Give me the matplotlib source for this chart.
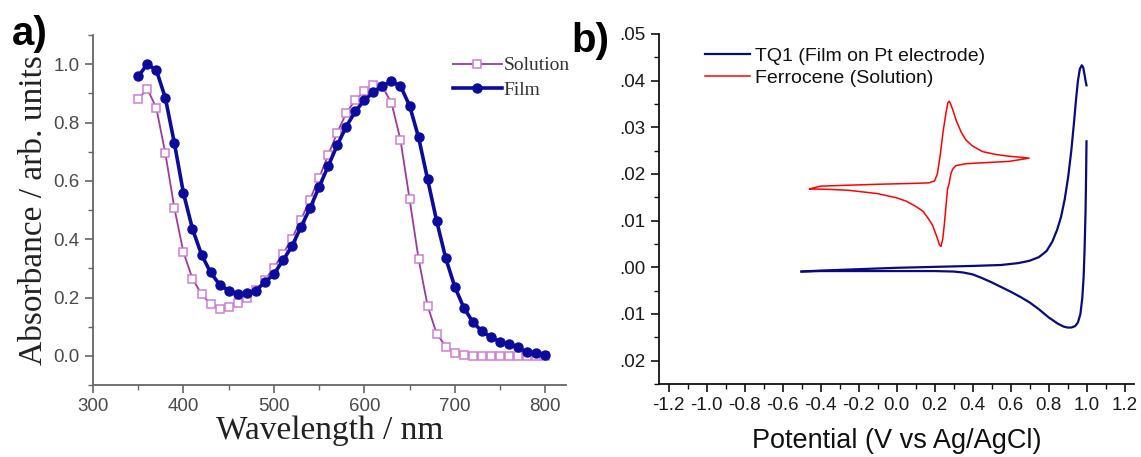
import matplotlib.pyplot as plt
from matplotlib.ticker import MultipleLocator, FuncFormatter

# panel a: UV-vis absorbance
wavelength = [350, 360, 370, 380, 390, 400, 410, 420, 430, 440, 450, 460, 470, 480, 490,
              500, 510, 520, 530, 540, 550, 560, 570, 580, 590, 600, 610, 620, 630, 640,
              650, 660, 670, 680, 690, 700, 710, 720, 730, 740, 750, 760, 770, 780, 790, 800]
solution = [0.88, 0.916, 0.85, 0.694, 0.506, 0.355, 0.265, 0.211, 0.178, 0.161, 0.166, 0.181,
            0.200, 0.225, 0.260, 0.302, 0.350, 0.402, 0.467, 0.536, 0.610, 0.688, 0.765, 0.832,
            0.877, 0.907, 0.928, 0.922, 0.868, 0.740, 0.538, 0.332, 0.171, 0.076, 0.032, 0.009,
            0.003, 0.001, 0.0, 0.0, 0.0, 0.0, 0.0, 0.0, 0.0, 0.0]
film = [0.958, 1.0, 0.98, 0.884, 0.729, 0.558, 0.435, 0.347, 0.286, 0.244, 0.224, 0.213,
        0.215, 0.224, 0.252, 0.280, 0.327, 0.376, 0.442, 0.506, 0.579, 0.650, 0.722, 0.786,
        0.838, 0.876, 0.904, 0.926, 0.941, 0.925, 0.858, 0.749, 0.605, 0.462, 0.335, 0.237,
        0.165, 0.116, 0.084, 0.064, 0.049, 0.040, 0.029, 0.012, 0.009, 0.002]

# panel b: cyclic voltammetry
tq1_fwd_v = [-0.50, -0.40, -0.20, 0.00, 0.20, 0.40, 0.55, 0.64, 0.70, 0.75, 0.79, 0.82, 0.845,
             0.866, 0.885, 0.904, 0.92, 0.933, 0.945, 0.955, 0.965, 0.975, 0.983, 0.99, 0.995, 1.0]
tq1_fwd_i = [-0.0009, -0.0007, -0.0004, -0.0001, 0.0001, 0.0003, 0.0005, 0.0009, 0.0014, 0.0022,
             0.0035, 0.0055, 0.0080, 0.0108, 0.0145, 0.0195, 0.0250, 0.0305, 0.0360, 0.0400,
             0.0425, 0.0433, 0.0428, 0.0412, 0.0400, 0.0390]
tq1_rev_v = [1.0, 0.998, 0.995, 0.99, 0.985, 0.978, 0.968, 0.955, 0.94, 0.92, 0.90, 0.88, 0.85,
             0.80, 0.75, 0.70, 0.65, 0.60, 0.55, 0.50, 0.45, 0.40, 0.35, 0.30, 0.20, 0.0, -0.2,
             -0.4, -0.5]
tq1_rev_i = [0.0270, 0.020, 0.012, 0.004, -0.002, -0.0065, -0.0100, -0.0118, -0.0126, -0.0129,
             -0.0129, -0.0127, -0.0121, -0.0107, -0.0090, -0.0075, -0.0063, -0.0052, -0.0042,
             -0.0032, -0.0023, -0.0015, -0.0011, -0.0009, -0.0008, -0.0008, -0.0008, -0.0008,
             -0.0009]

fc_v = [-0.457, -0.40, -0.25, -0.10, 0.10, 0.17, 0.20, 0.215, 0.23, 0.245, 0.26, 0.27, 0.277,
        0.285, 0.30, 0.313, 0.34, 0.365, 0.40, 0.453, 0.52, 0.593, 0.65, 0.698,
        0.593, 0.45, 0.365, 0.313, 0.295, 0.286, 0.277, 0.268, 0.258, 0.25, 0.243, 0.234,
        0.226, 0.22, 0.21, 0.19, 0.17, 0.14, 0.10, 0.05, 0.0, -0.10, -0.25, -0.35, -0.457]
fc_i = [0.0168, 0.0174, 0.0176, 0.0178, 0.0180, 0.0181, 0.0185, 0.0200, 0.0240, 0.0290, 0.0330,
        0.0352, 0.0356, 0.0350, 0.0333, 0.0316, 0.0290, 0.0273, 0.0260, 0.0248, 0.0242, 0.0238,
        0.0236, 0.0234,
        0.0227, 0.0224, 0.0222, 0.0218, 0.0210, 0.0200, 0.0180, 0.0166, 0.0120, 0.0085, 0.0060,
        0.0045, 0.0048, 0.0056, 0.0068, 0.0090, 0.0103, 0.0120, 0.0131, 0.0142, 0.0149, 0.0158,
        0.0165, 0.0167, 0.0168]

W, H = 1141, 457
fig = plt.figure(figsize=(W / 100, H / 100), dpi=100)

# ---- panel a ----
axa = fig.add_axes([93 / W, 1 - 385 / H, (566 - 93) / W, 350 / H])
axa.plot(wavelength, solution, color='#9c3aa0', lw=1.3, marker='s', ms=5.5,
         mfc='white', mec='#cf7fd2', mew=1.1, label='Solution')
axa.plot(wavelength, film, color='#0c0c9c', lw=2.6, marker='o', ms=6.5,
         mfc='#0c0c9c', mec='#0c0c9c', label='Film')
axa.set_xlim(300, 823)
axa.set_ylim(-0.1, 1.1)
axa.xaxis.set_major_locator(MultipleLocator(100))
axa.xaxis.set_minor_locator(MultipleLocator(50))
axa.yaxis.set_minor_locator(MultipleLocator(0.1))
axa.set_yticks([0.0, 0.2, 0.4, 0.6, 0.8, 1.0])
for s in ['top', 'right']:
    axa.spines[s].set_visible(False)
for s in ['left', 'bottom']:
    axa.spines[s].set_color('#666666')
    axa.spines[s].set_linewidth(1.3)
axa.tick_params(which='major', length=6, width=1.2, color='#666666', labelcolor='#4a4a4a',
                labelsize=13.5, direction='out')
axa.tick_params(which='minor', length=3.5, width=1.0, color='#666666', direction='out')
for lab in axa.get_xticklabels() + axa.get_yticklabels():
    lab.set_fontfamily('Liberation Sans')
axa.set_xlabel('Wavelength / nm', fontsize=24, family='Liberation Serif', color='#222222',
               labelpad=0)
axa.set_ylabel('Absorbance / arb. units', fontsize=24, family='Liberation Serif',
               color='#222222', labelpad=3)
axa.legend(loc='upper left', bbox_to_anchor=(0.745, 0.96), frameon=False,
           prop={'family': 'Liberation Serif', 'size': 14}, handlelength=2.5,
           handletextpad=0.1, labelspacing=0.35, borderaxespad=0, labelcolor='#333333')

# ---- panel b ----
axb = fig.add_axes([659 / W, 1 - 384 / H, (1134 - 659) / W, (384 - 34) / H])
axb.plot(tq1_fwd_v, tq1_fwd_i, color='#0a0a80', lw=1.6, label='TQ1 (Film on Pt electrode)')
axb.plot(tq1_rev_v, tq1_rev_i, color='#0a0a80', lw=1.6)
axb.plot(fc_v, fc_i, color='#ff0000', lw=1.1, label='Ferrocene (Solution)')
axb.set_xlim(-1.25, 1.25)
axb.set_ylim(-0.025, 0.05)
axb.xaxis.set_minor_locator(MultipleLocator(0.1))
axb.set_xticks([-1.2, -1.0, -0.8, -0.6, -0.4, -0.2, 0.0, 0.2, 0.4, 0.6, 0.8, 1.0, 1.2])
axb.xaxis.set_major_formatter(FuncFormatter(lambda v, p: '%.1f' % v))
axb.set_yticks([-0.02, -0.01, 0.0, 0.01, 0.02, 0.03, 0.04, 0.05])
axb.yaxis.set_minor_locator(MultipleLocator(0.005))
axb.yaxis.set_major_formatter(FuncFormatter(lambda v, p: ('%.2f' % abs(v))[1:]))
for s in ['top', 'right']:
    axb.spines[s].set_visible(False)
for s in ['left', 'bottom']:
    axb.spines[s].set_color('#111111')
    axb.spines[s].set_linewidth(1.3)
axb.tick_params(which='major', length=6, width=1.2, color='#111111', labelcolor='#1a1a1a',
                labelsize=13.5, direction='out')
axb.tick_params(which='minor', length=3.5, width=1.0, color='#111111', direction='out')
for lab in axb.get_xticklabels() + axb.get_yticklabels():
    lab.set_fontfamily('Liberation Sans')
axb.set_xlabel('Potential (V vs Ag/AgCl)', fontsize=19.5, family='Liberation Sans',
               color='#111111', labelpad=10)
axb.legend(loc='upper left', bbox_to_anchor=(0.08, 0.985), frameon=False,
           prop={'family': 'Liberation Sans', 'size': 14}, handlelength=2.3,
           handletextpad=0.3, labelspacing=0.25, borderaxespad=0, labelcolor='#111111')

fig.text(12 / W, 1 - 45 / H, 'a)', fontsize=29, fontweight='bold', family='Liberation Sans',
         va='baseline', ha='left')
fig.text(571 / W, 1 - 52 / H, 'b)', fontsize=29, fontweight='bold', family='Liberation Sans',
         va='baseline', ha='left')

fig.savefig('out.png', dpi=100)
